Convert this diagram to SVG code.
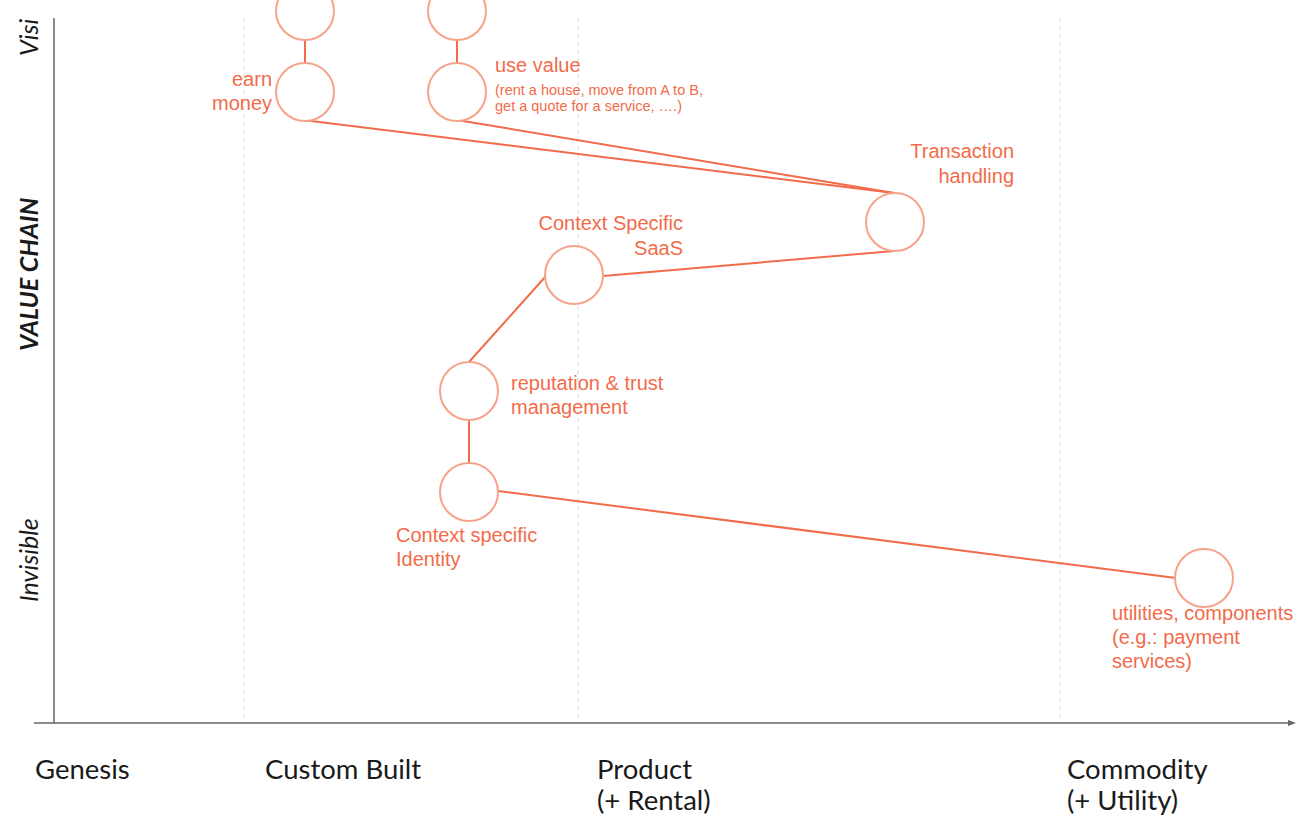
<svg xmlns="http://www.w3.org/2000/svg" width="1308" height="821" viewBox="0 0 1308 821">
  <style>
    .grid { stroke: #d9d9d9; stroke-width: 1; stroke-dasharray: 4 4; }
    .axis { stroke: #666666; stroke-width: 1.5; fill: none; }
    .axlbl { font-family: Lato, "Open Sans", sans-serif; font-size: 27.5px; fill: #1a1a1a; }
    .side { font-family: Lato, "Open Sans", sans-serif; font-size: 25px; font-style: italic; fill: #1a1a1a; }
    .node { fill: #ffffff; stroke: #f7a38b; stroke-width: 2; }
    .link { stroke: #f26b4a; stroke-width: 2; fill: none; }
    .lbl { font-family: "Liberation Sans", Arial, sans-serif; font-size: 20px; fill: #f26b4a; }
    .small { font-size: 14.5px; }
  </style>
  <rect width="1308" height="821" fill="#ffffff"/>

  <!-- evolution stage gridlines -->
  <g id="grid">
    <line class="grid" x1="244" y1="18" x2="244" y2="722"/>
    <line class="grid" x1="578" y1="18" x2="578" y2="722"/>
    <line class="grid" x1="1060" y1="18" x2="1060" y2="722"/>
  </g>

  <!-- axes -->
  <g id="axes">
    <line class="axis" x1="54" y1="18" x2="54" y2="723"/>
    <line class="axis" x1="34" y1="723" x2="1290" y2="723"/>
    <polygon points="1296,723 1288,720 1288,726" fill="#666666"/>
  </g>

  <g id="axis-labels">
    <text class="axlbl" x="35" y="779">Genesis</text>
    <text class="axlbl" x="265" y="779">Custom Built</text>
    <text class="axlbl" x="597" y="779">Product</text>
    <text class="axlbl" x="597" y="810">(+ Rental)</text>
    <text class="axlbl" x="1067" y="779">Commodity</text>
    <text class="axlbl" x="1067" y="810">(+ Utility)</text>
    <text class="side" transform="translate(38,56) rotate(-90)">Visi</text>
    <text class="side" font-weight="bold" transform="translate(38,351) rotate(-90)">VALUE CHAIN</text>
    <text class="side" transform="translate(38,602) rotate(-90)">Invisible</text>
  </g>

  <!-- dependencies -->
  <g id="connectors">
    <line class="link" x1="305" y1="40" x2="305" y2="63"/>
    <line class="link" x1="457" y1="40" x2="457" y2="63"/>
    <line class="link" x1="303" y1="120" x2="894" y2="193"/>
    <line class="link" x1="457" y1="120" x2="894" y2="193"/>
    <line class="link" x1="894" y1="251" x2="603" y2="276"/>
    <line class="link" x1="546" y1="276" x2="469" y2="362"/>
    <line class="link" x1="469" y1="420" x2="469" y2="463"/>
    <line class="link" x1="498" y1="491" x2="1176" y2="578"/>
  </g>

  <g id="n-top-left"><circle class="node" cx="305" cy="11" r="29"/></g>
  <g id="n-top-right"><circle class="node" cx="457" cy="11" r="29"/></g>

  <g id="n-earn-money">
    <circle class="node" cx="305" cy="92" r="29"/>
    <text class="lbl" x="272" y="86" text-anchor="end">earn</text>
    <text class="lbl" x="272" y="110" text-anchor="end">money</text>
  </g>

  <g id="n-use-value">
    <circle class="node" cx="457" cy="92" r="29"/>
    <text class="lbl" x="495" y="72">use value</text>
    <text class="lbl small" x="495" y="95">(rent a house, move from A to B,</text>
    <text class="lbl small" x="495" y="111">get a quote for a service, ….)</text>
  </g>

  <g id="n-transaction">
    <circle class="node" cx="895" cy="222" r="29"/>
    <text class="lbl" x="1014" y="158" text-anchor="end">Transaction</text>
    <text class="lbl" x="1014" y="183" text-anchor="end">handling</text>
  </g>

  <g id="n-saas">
    <circle class="node" cx="574" cy="275" r="29"/>
    <text class="lbl" x="683" y="230" text-anchor="end">Context Specific</text>
    <text class="lbl" x="683" y="255" text-anchor="end">SaaS</text>
  </g>

  <g id="n-reputation">
    <circle class="node" cx="469" cy="391" r="29"/>
    <text class="lbl" x="511" y="390">reputation &amp; trust</text>
    <text class="lbl" x="511" y="414">management</text>
  </g>

  <g id="n-identity">
    <circle class="node" cx="469" cy="492" r="29"/>
    <text class="lbl" x="396" y="542">Context specific</text>
    <text class="lbl" x="396" y="566">Identity</text>
  </g>

  <g id="n-utilities">
    <circle class="node" cx="1204" cy="578" r="29"/>
    <text class="lbl" x="1112" y="620">utilities, components</text>
    <text class="lbl" x="1112" y="644">(e.g.: payment</text>
    <text class="lbl" x="1112" y="668">services)</text>
  </g>
</svg>
